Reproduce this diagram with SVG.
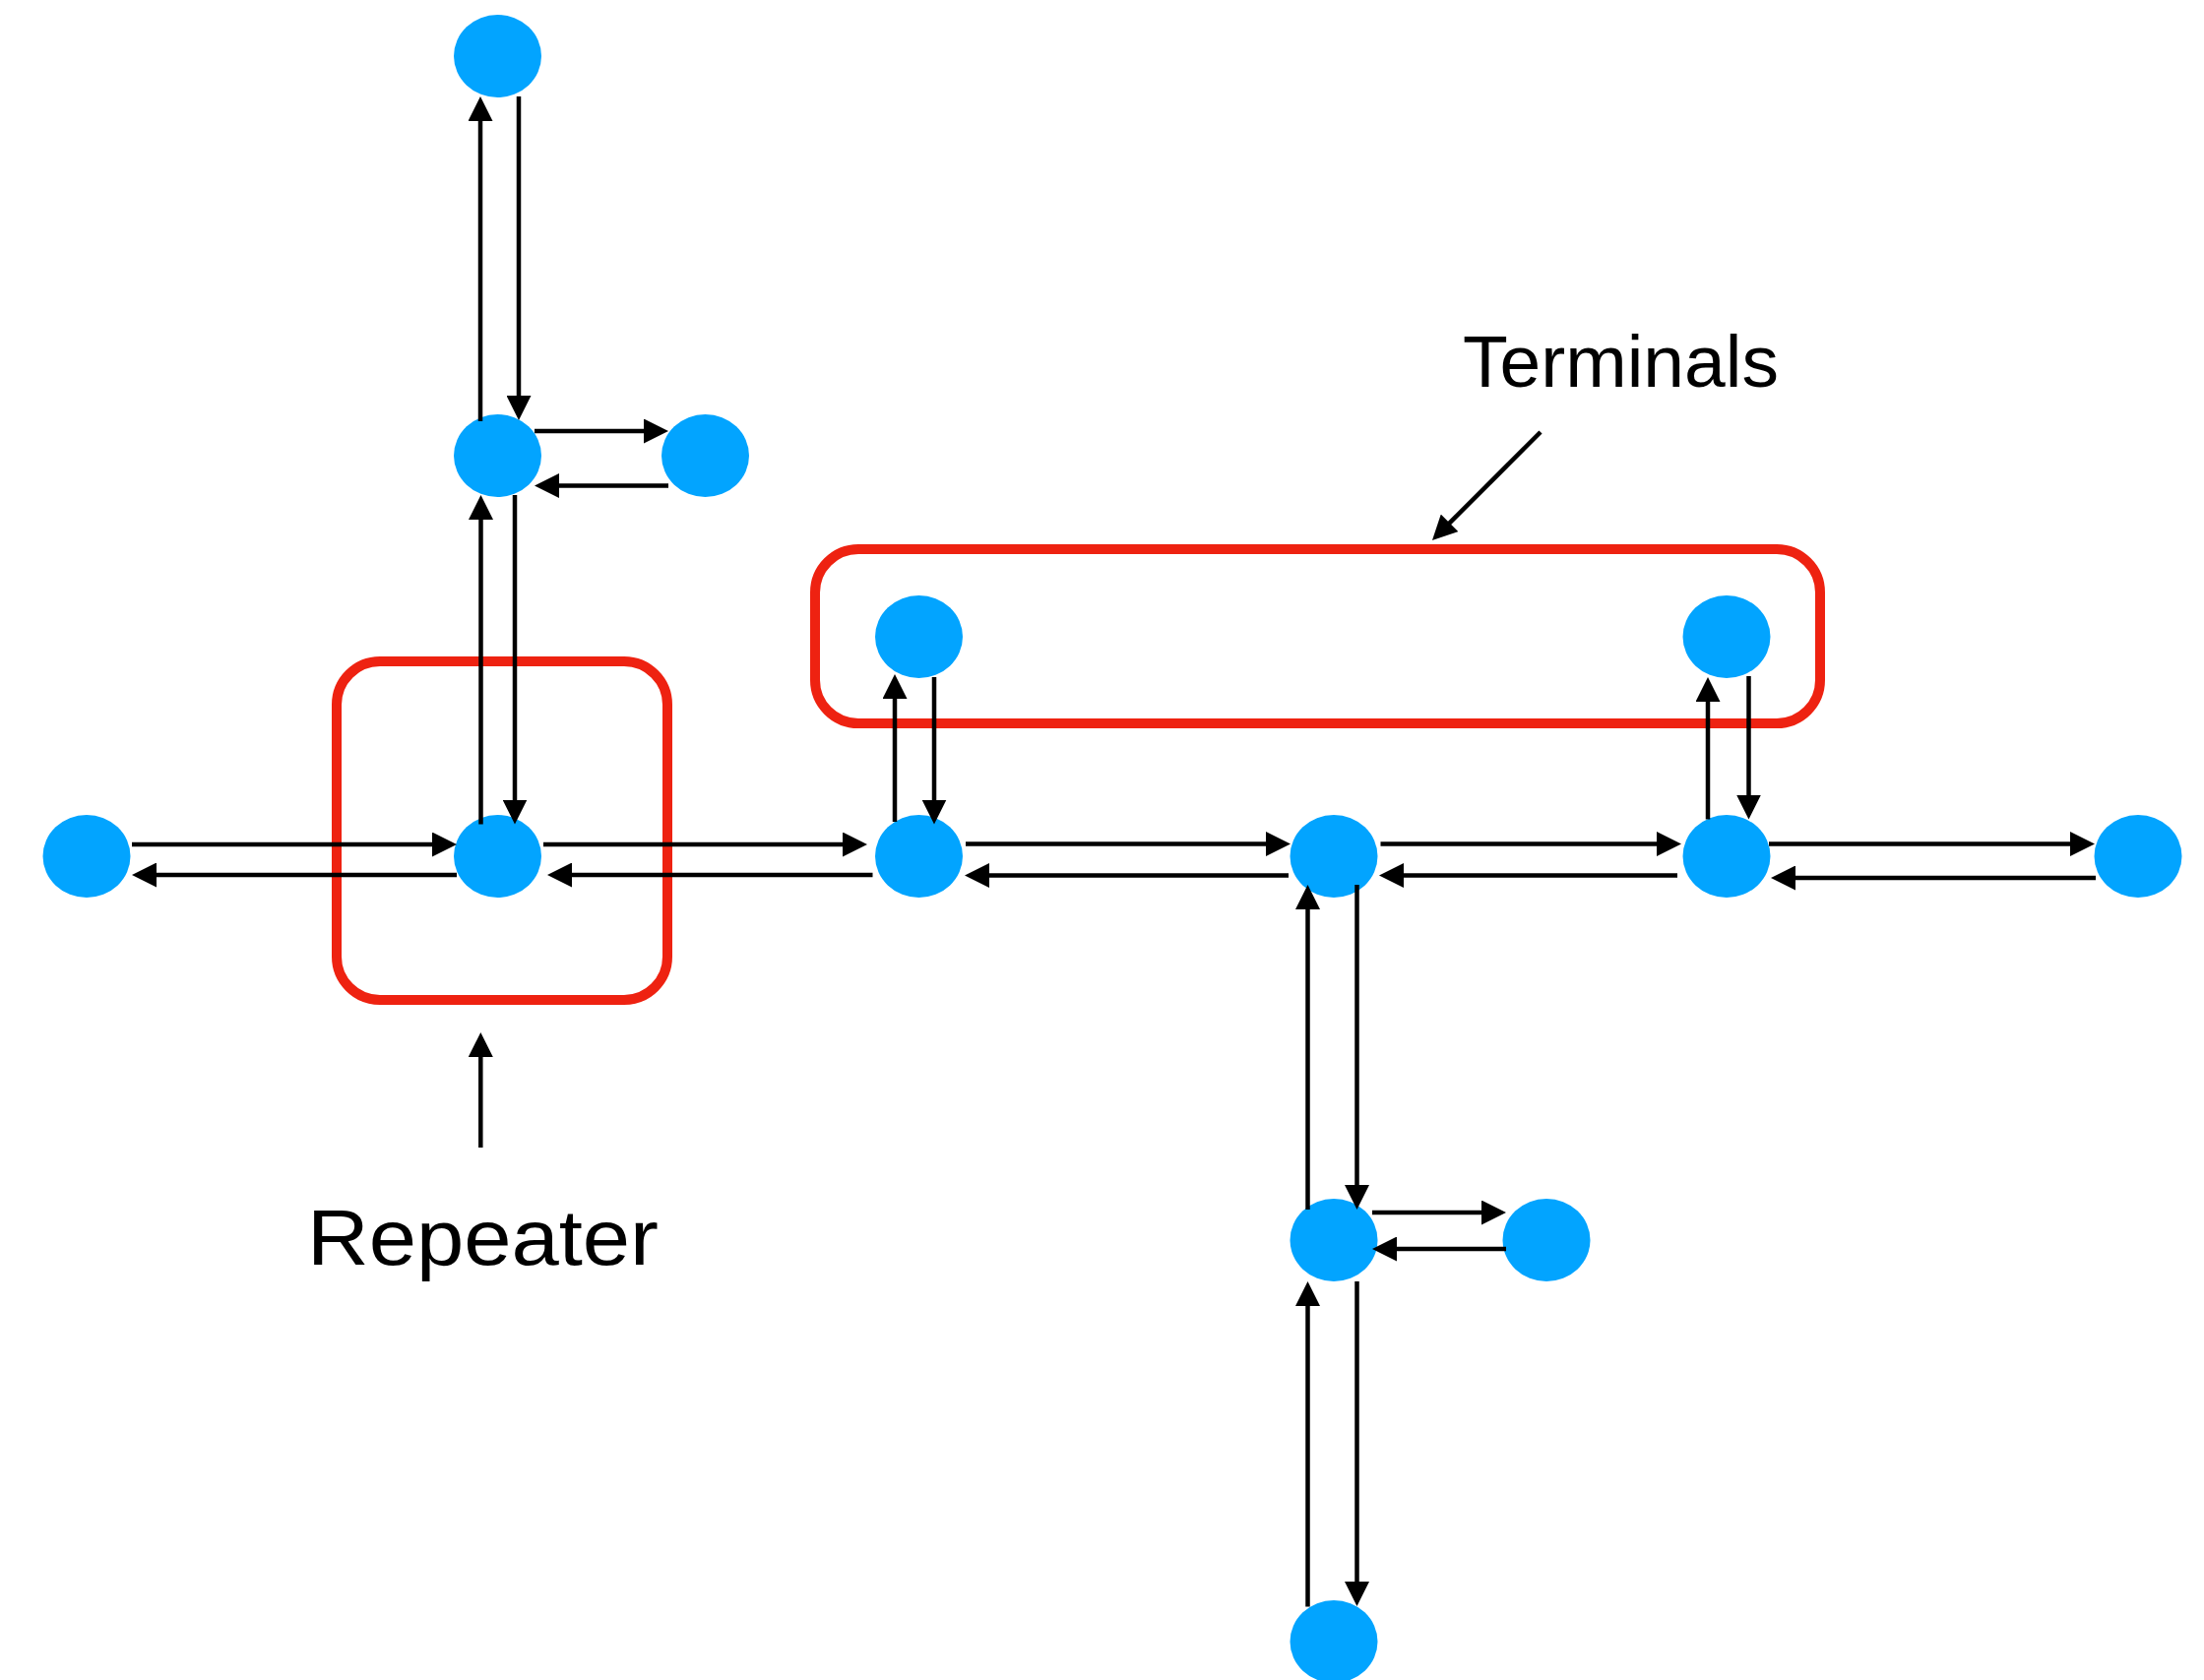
<svg xmlns="http://www.w3.org/2000/svg" width="2239" height="1707" viewBox="0 0 2239 1707">
<style>
.node{fill:#02A4FF;}
.box{fill:none;stroke:#EE2211;stroke-width:10;}
.conn{stroke:#000;stroke-width:4.5;fill:none;marker-end:url(#ah);}
.lbl{font-family:"Liberation Sans",Arial,sans-serif;fill:#000;}
</style>
<defs>
<marker id="ah" markerUnits="userSpaceOnUse" markerWidth="25" markerHeight="25" refX="5" refY="12.5" orient="auto" viewBox="0 0 25 25">
<path d="M0,0 L25,12.5 L0,25 z" fill="#000"/>
</marker>
</defs>
<rect width="2239" height="1707" fill="#fff"/>
<g id="repeater-box"><rect class="box" x="342" y="672" width="336" height="344" rx="44" ry="44"/></g>
<g id="terminals-box"><rect class="box" x="828" y="558" width="1021" height="177" rx="44" ry="44"/></g>
<g id="n-top"><ellipse class="node" cx="505.5" cy="57" rx="44.5" ry="42"/></g>
<g id="n-upper"><ellipse class="node" cx="505.5" cy="463" rx="44.5" ry="42"/></g>
<g id="n-upper-right"><ellipse class="node" cx="716.5" cy="463" rx="44.5" ry="42"/></g>
<g id="n-a"><ellipse class="node" cx="88" cy="870" rx="44.5" ry="42"/></g>
<g id="n-repeater"><ellipse class="node" cx="505.5" cy="870" rx="44.5" ry="42"/></g>
<g id="n-c"><ellipse class="node" cx="933.5" cy="870" rx="44.5" ry="42"/></g>
<g id="n-d"><ellipse class="node" cx="1355" cy="870" rx="44.5" ry="42"/></g>
<g id="n-e"><ellipse class="node" cx="1754" cy="870" rx="44.5" ry="42"/></g>
<g id="n-f"><ellipse class="node" cx="2172" cy="870" rx="44.5" ry="42"/></g>
<g id="n-t1"><ellipse class="node" cx="933.5" cy="647" rx="44.5" ry="42"/></g>
<g id="n-t2"><ellipse class="node" cx="1754" cy="647" rx="44.5" ry="42"/></g>
<g id="n-g"><ellipse class="node" cx="1355" cy="1260" rx="44.5" ry="42"/></g>
<g id="n-h"><ellipse class="node" cx="1571" cy="1260" rx="44.5" ry="42"/></g>
<g id="n-i"><ellipse class="node" cx="1355" cy="1668" rx="44.5" ry="42"/></g>
<g id="connectors">
<line class="conn" x1="488" y1="428" x2="488" y2="118"/>
<line class="conn" x1="527" y1="98" x2="527" y2="407"/>
<line class="conn" x1="543" y1="438" x2="659" y2="438"/>
<line class="conn" x1="679" y1="493.5" x2="563" y2="493.5"/>
<line class="conn" x1="488.5" y1="837.5" x2="488.5" y2="523"/>
<line class="conn" x1="523" y1="503" x2="523" y2="817.5"/>
<line class="conn" x1="134" y1="858" x2="444" y2="858"/>
<line class="conn" x1="464" y1="889" x2="154" y2="889"/>
<line class="conn" x1="552" y1="858" x2="861" y2="858"/>
<line class="conn" x1="886.5" y1="889" x2="576" y2="889"/>
<line class="conn" x1="909" y1="835" x2="909" y2="705"/>
<line class="conn" x1="949" y1="688" x2="949" y2="817.5"/>
<line class="conn" x1="981" y1="857.5" x2="1291" y2="857.5"/>
<line class="conn" x1="1309" y1="889.5" x2="1000" y2="889.5"/>
<line class="conn" x1="1402.5" y1="857.5" x2="1688" y2="857.5"/>
<line class="conn" x1="1704" y1="889.5" x2="1421" y2="889.5"/>
<line class="conn" x1="1797" y1="857.5" x2="2108" y2="857.5"/>
<line class="conn" x1="2129" y1="892" x2="1819" y2="892"/>
<line class="conn" x1="1735" y1="832.5" x2="1735" y2="708"/>
<line class="conn" x1="1776.5" y1="687" x2="1776.5" y2="812.5"/>
<line class="conn" x1="1328.5" y1="1229" x2="1328.5" y2="919"/>
<line class="conn" x1="1378.5" y1="899" x2="1378.5" y2="1209"/>
<line class="conn" x1="1394" y1="1232" x2="1510" y2="1232"/>
<line class="conn" x1="1530" y1="1269" x2="1414" y2="1269"/>
<line class="conn" x1="1328.5" y1="1632.5" x2="1328.5" y2="1322"/>
<line class="conn" x1="1378.5" y1="1302" x2="1378.5" y2="1612"/>
<line class="conn" x1="488.3" y1="1166" x2="488.3" y2="1069"/>
<line class="conn" x1="1565" y1="439" x2="1469.1" y2="534.9"/>
</g>
<g id="labels">
<text class="lbl" x="312" y="1285" font-size="80" textLength="357" lengthAdjust="spacingAndGlyphs">Repeater</text>
<text class="lbl" x="1486" y="393" font-size="74" textLength="321" lengthAdjust="spacingAndGlyphs">Terminals</text>
</g>
</svg>
